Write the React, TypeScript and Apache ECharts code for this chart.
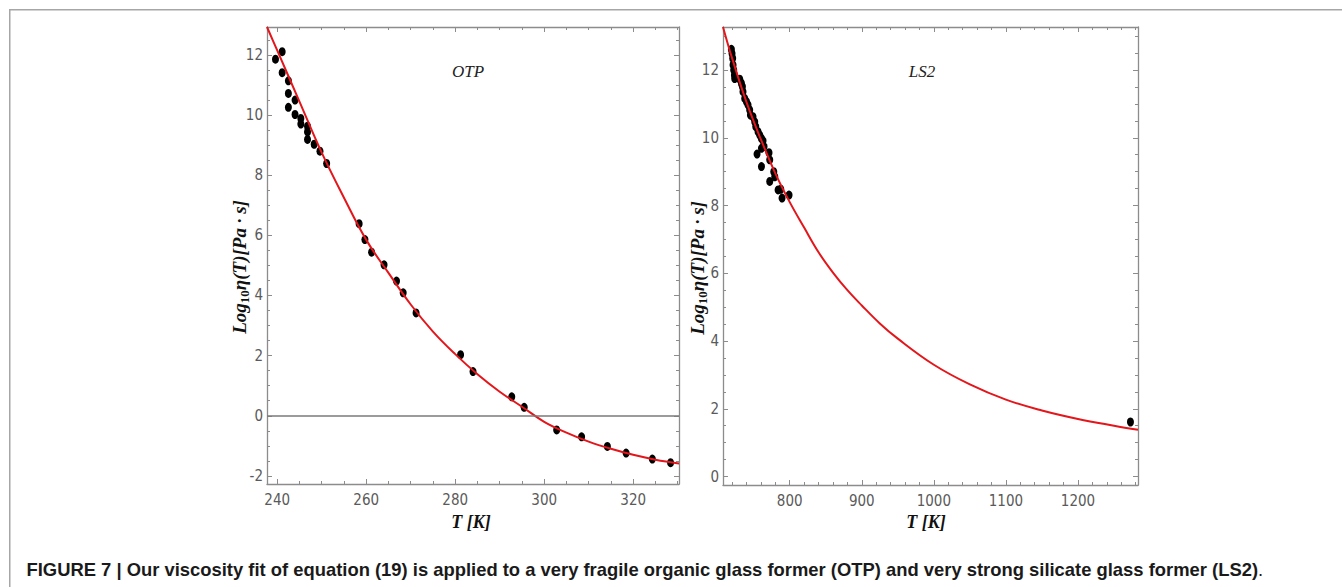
import React, { useEffect, useRef } from "react";
import * as echarts from "echarts";

// ---------- OTP (left panel) ----------
const otpT = [239.6, 241.1, 241.1, 242.5, 242.5, 242.5, 244.0, 244.0, 245.3, 245.3, 246.8, 246.8, 246.8, 248.3, 249.6, 251.1, 258.4, 259.7, 261.2, 264.0, 266.8, 268.3, 271.2, 281.2, 284.0, 292.7, 295.5, 302.8, 308.4, 314.2, 318.4, 324.3, 328.4];
const otpLogEta = [11.86, 12.11, 11.41, 11.14, 10.72, 10.26, 10.5, 10.02, 9.89, 9.7, 9.63, 9.44, 9.19, 9.03, 8.8, 8.39, 6.39, 5.86, 5.44, 5.02, 4.48, 4.09, 3.42, 2.03, 1.47, 0.63, 0.28, -0.47, -0.7, -1.02, -1.24, -1.44, -1.56];
const otpFitT = [237.7, 240, 245, 250, 255, 260, 265, 270, 275, 280, 285, 290, 295, 300, 305, 310, 315, 320, 325, 330.3];
const otpFitLogEta = [12.93, 12.15, 10.45, 8.75, 7.25, 5.85, 4.75, 3.7, 2.8, 2.05, 1.38, 0.8, 0.3, -0.2, -0.56, -0.86, -1.1, -1.3, -1.46, -1.59];
const otpXTicks = [240, 260, 280, 300, 320];
const otpYTicks = [-2, 0, 2, 4, 6, 8, 10, 12];

// ---------- LS2 (right panel) ----------
const ls2T = [719.0, 719.9, 720.8, 721.3, 722.2, 723.2, 723.6, 730.6, 732.9, 734.3, 735.1, 737.5, 739.9, 742.1, 744.4, 745.4, 749.0, 751.4, 752.8, 756.0, 758.3, 760.7, 762.9, 764.3, 760.7, 754.6, 771.2, 760.7, 772.2, 777.8, 779.2, 772.2, 783.8, 787.5, 789.3, 799.0, 1272.8];
const ls2LogEta = [12.61, 12.49, 12.35, 12.15, 12.0, 11.85, 11.75, 11.73, 11.61, 11.51, 11.36, 11.16, 11.07, 10.97, 10.82, 10.67, 10.62, 10.47, 10.33, 10.18, 10.08, 9.98, 9.91, 9.74, 9.69, 9.52, 9.56, 9.15, 9.35, 9.0, 8.85, 8.71, 8.46, 8.48, 8.22, 8.31, 1.61];
const ls2FitT = [707.4, 720, 740, 760, 780, 800, 820, 840, 860, 880, 900, 925, 950, 1000, 1050, 1100, 1150, 1200, 1250, 1283.3];
const ls2FitLogEta = [13.27, 12.35, 11.05, 9.95, 8.95, 8.1, 7.35, 6.62, 6.02, 5.5, 5.05, 4.52, 4.07, 3.3, 2.72, 2.27, 1.95, 1.7, 1.5, 1.38];
const ls2XTicks = [800, 900, 1000, 1100, 1200];
const ls2YTicks = [0, 2, 4, 6, 8, 10, 12];

const titles = ["OTP", "LS2"];
const xName = "T [K]";
const caption = "FIGURE 7 | Our viscosity fit of equation (19) is applied to a very fragile organic glass former (OTP) and very strong silicate glass former (LS2)";

const FRAME = "#8c8c8c";
const TICKFONT = "'Liberation Sans Narrow', 'DejaVu Sans Condensed', 'Liberation Sans', sans-serif";
const SERIF = "'Liberation Serif', 'DejaVu Serif', serif";

function range(a: number, b: number, step: number) {
  const out: number[] = [];
  for (let v = a; v <= b + 1e-9; v += step) out.push(Math.round(v * 1000) / 1000);
  return out;
}

function zip(a: number[], b: number[]) {
  return a.map((v, i) => [v, b[i]]);
}

function axisSet(dim: "x" | "y", gridIndex: number, min: number, max: number, majors: number[], minors: number[]) {
  const pos = dim === "x" ? ["bottom", "top"] : ["left", "right"];
  const axes: any[] = [];
  pos.forEach((p, k) => {
    axes.push({
      type: "value",
      gridIndex,
      min,
      max,
      position: p,
      axisLine: { show: true, onZero: false, lineStyle: { color: FRAME, width: 1.3 } },
      axisTick: { show: true, inside: true, length: 5, customValues: majors, lineStyle: { color: FRAME, width: 1 } },
      axisLabel: {
        show: k === 0,
        customValues: majors,
        margin: dim === "x" ? 8 : 4,
        color: "#5a5a5a",
        fontSize: 15,
        fontFamily: TICKFONT,
        formatter: (v: number) => String(v),
      },
      splitLine: { show: false },
    });
    axes.push({
      type: "value",
      gridIndex,
      min,
      max,
      position: p,
      axisLine: { show: false, onZero: false },
      axisTick: { show: true, inside: true, length: 3, customValues: minors, lineStyle: { color: FRAME, width: 1 } },
      axisLabel: { show: false },
      splitLine: { show: false },
    });
  });
  return axes;
}

function yLabel(x: number, y: number) {
  return {
    type: "text",
    x,
    y,
    rotation: Math.PI / 2,
    style: {
      text: "{a|Log}{s|10}{a|η(T)[Pa · s]}",
      align: "center",
      verticalAlign: "middle",
      fill: "#111",
      rich: {
        a: { fontFamily: SERIF, fontStyle: "italic", fontWeight: "bold", fontSize: 19, fill: "#111", lineHeight: 24, verticalAlign: "middle" },
        s: { fontFamily: SERIF, fontWeight: "bold", fontSize: 13, fill: "#111", lineHeight: 24, verticalAlign: "bottom", padding: [7, 0, 0, 0] },
      },
    },
  };
}

export default function App() {
  const ref = useRef<HTMLDivElement>(null);

  useEffect(() => {
    document.body.style.margin = "0";
    if (!ref.current) return;
    const chart = echarts.init(ref.current, undefined, { renderer: "svg" });

    const xAxis = [
      ...axisSet("x", 0, 237.7, 330.3, otpXTicks, range(240, 330, 5)),
      ...axisSet("x", 1, 707.4, 1283.3, ls2XTicks, range(720, 1280, 20)),
    ];
    const yAxis = [
      ...axisSet("y", 0, -2.27, 12.93, otpYTicks, range(-2, 12.5, 0.5)),
      ...axisSet("y", 1, -0.25, 13.27, ls2YTicks, range(0, 13, 0.5)),
    ];

    chart.setOption({
      animation: false,
      backgroundColor: "#ffffff",
      grid: [
        { left: 267, top: 27, width: 412, height: 457 },
        { left: 723, top: 27, width: 415, height: 458 },
      ],
      xAxis,
      yAxis,
      series: [
        {
          type: "line",
          xAxisIndex: 0,
          yAxisIndex: 0,
          data: [],
          markLine: {
            silent: true,
            symbol: "none",
            label: { show: false },
            lineStyle: { color: "#7a7a7a", width: 1.5, type: "solid" },
            data: [{ yAxis: 0 }],
          },
        },
        {
          type: "scatter",
          xAxisIndex: 0,
          yAxisIndex: 0,
          data: zip(otpT, otpLogEta),
          symbol: "circle",
          symbolSize: [7, 9],
          itemStyle: { color: "#000", opacity: 1 },
          z: 3,
        },
        {
          type: "line",
          xAxisIndex: 0,
          yAxisIndex: 0,
          data: zip(otpFitT, otpFitLogEta),
          smooth: 0.4,
          showSymbol: false,
          lineStyle: { color: "#e3161b", width: 2 },
          z: 4,
        },
        {
          type: "scatter",
          xAxisIndex: 4,
          yAxisIndex: 4,
          data: zip(ls2T, ls2LogEta),
          symbol: "circle",
          symbolSize: [7, 9],
          itemStyle: { color: "#000", opacity: 1 },
          z: 3,
        },
        {
          type: "line",
          xAxisIndex: 4,
          yAxisIndex: 4,
          data: zip(ls2FitT, ls2FitLogEta),
          smooth: 0.4,
          showSymbol: false,
          lineStyle: { color: "#e3161b", width: 2 },
          z: 4,
        },
      ],
      graphic: [
        { type: "rect", shape: { x: 9, y: 9, width: 1333, height: 1.5 }, style: { fill: "#a6a6a6" } },
        { type: "rect", shape: { x: 9, y: 9, width: 1.5, height: 578 }, style: { fill: "#a6a6a6" } },
        {
          type: "text", x: 468, y: 71,
          style: { text: titles[0], fontFamily: SERIF, fontStyle: "italic", fontSize: 17, fill: "#222", align: "center", verticalAlign: "middle" },
        },
        {
          type: "text", x: 922, y: 71,
          style: { text: titles[1], fontFamily: SERIF, fontStyle: "italic", fontSize: 17, fill: "#222", align: "center", verticalAlign: "middle" },
        },
        {
          type: "text", x: 471, y: 522,
          style: { text: xName, fontFamily: SERIF, fontStyle: "italic", fontWeight: "bold", fontSize: 18, fill: "#111", align: "center", verticalAlign: "middle" },
        },
        {
          type: "text", x: 926, y: 522,
          style: { text: xName, fontFamily: SERIF, fontStyle: "italic", fontWeight: "bold", fontSize: 18, fill: "#111", align: "center", verticalAlign: "middle" },
        },
        yLabel(239, 267),
        yLabel(697, 268),
        {
          type: "text", x: 26.5, y: 569,
          style: {
            text: "{b|" + caption + "}{n|.}",
            verticalAlign: "middle",
            align: "left",
            rich: {
              b: { fontFamily: "'Liberation Sans', Arial, sans-serif", fontWeight: "bold", fontSize: 18.4, fill: "#1a1a1a" },
              n: { fontFamily: "'Liberation Sans', Arial, sans-serif", fontWeight: "normal", fontSize: 18.4, fill: "#1a1a1a" },
            },
          },
        },
      ],
    });

    return () => chart.dispose();
  }, []);

  return <div ref={ref} style={{ width: 1342, height: 587 }} />;
}
